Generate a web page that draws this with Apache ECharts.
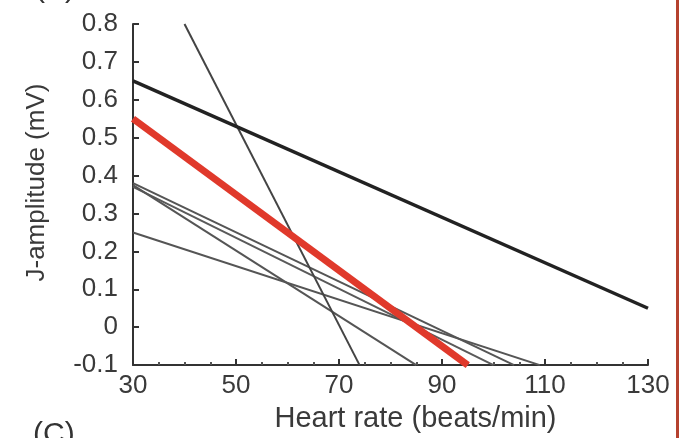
<!DOCTYPE html>
<html>
<head>
<meta charset="utf-8">
<script src="https://cdn.jsdelivr.net/npm/echarts@6/dist/echarts.min.js"></script>
<style>
    html, body { margin: 0; padding: 0; background: #fff; }
    #chart-container { width: 679px; height: 438px; }
</style>
</head>
<body>
<div id="chart-container"></div>
<script>
// 每條直線的兩個端點 [心率, J波幅]
const blackLine = [[30, 0.65], [130, 0.05]];
const redLine = [[30, 0.55], [95, -0.1]];
const steepLine = [[40, 0.8], [74, -0.1]];
const greyLineA = [[30, 0.38], [104, -0.1]];
const greyLineB = [[30, 0.37], [100, -0.1]];
const greyLineC = [[30, 0.375], [85, -0.1]];
const greyLineD = [[30, 0.25], [109, -0.1]];

const xTicks = [30, 50, 70, 90, 110, 130];
const yTicks = [-0.1, 0, 0.1, 0.2, 0.3, 0.4, 0.5, 0.6, 0.7, 0.8];

const chart = echarts.init(document.getElementById('chart-container'));

const thin = (data, color) => ({
    type: 'line',
    data: data,
    symbol: 'none',
    silent: true,
    lineStyle: { color: color, width: 2 }
});

const font = 'Liberation Sans';

const option = {
    animation: false,
    grid: { left: 133, right: 31, top: 24, bottom: 72 },
    xAxis: {
        type: 'value',
        min: xTicks[0],
        max: xTicks[xTicks.length - 1],
        interval: 20,
        name: 'Heart rate (beats/min)',
        nameLocation: 'middle',
        nameGap: 36,
        nameTextStyle: { fontSize: 29, color: '#3a3a3a', fontFamily: font, padding: [0, 0, 0, 50] },
        axisLine: { onZero: false, lineStyle: { color: '#333', width: 2 } },
        axisTick: { inside: true, length: 6, lineStyle: { color: '#333', width: 2 } },
        minorTick: { show: true, splitNumber: 4, length: 3, lineStyle: { color: '#555', width: 2 } },
        splitLine: { show: false },
        axisLabel: { fontSize: 26, color: '#3a3a3a', margin: 8, fontFamily: font }
    },
    yAxis: {
        type: 'value',
        min: yTicks[0],
        max: yTicks[yTicks.length - 1],
        interval: 0.1,
        name: 'J-amplitude (mV)',
        nameLocation: 'middle',
        nameGap: 83,
        nameTextStyle: { fontSize: 26, color: '#3a3a3a', fontFamily: font, padding: [0, 0, 0, 24] },
        axisLine: { show: true, onZero: false, lineStyle: { color: '#333', width: 2 } },
        axisTick: { show: true, inside: true, length: 6, lineStyle: { color: '#333', width: 2 } },
        splitLine: { show: false },
        axisLabel: {
            fontSize: 26,
            color: '#3a3a3a',
            margin: 15,
            fontFamily: font,
            formatter: v => String(Math.round(v * 10) / 10)
        }
    },
    series: [
        thin(greyLineA, '#555'),
        thin(greyLineB, '#5a5a5a'),
        thin(greyLineC, '#555'),
        thin(greyLineD, '#555'),
        thin(steepLine, '#444'),
        {
            type: 'line',
            data: blackLine,
            symbol: 'none',
            silent: true,
            lineStyle: { color: '#222', width: 3.5 }
        },
        {
            type: 'line',
            data: redLine,
            symbol: 'none',
            silent: true,
            lineStyle: { color: '#e0392b', width: 7 }
        }
    ],
    graphic: [
        { type: 'rect', right: 0, top: 0, shape: { width: 3, height: 438 }, style: { fill: '#b5412f' } },
        { type: 'text', left: 33, top: 420, style: { text: '(C)', fontSize: 30, fill: '#333', fontFamily: font } },
        { type: 'text', left: 35, top: -26, style: { text: '(B)', fontSize: 30, fill: '#333', fontFamily: font } }
    ]
};

chart.setOption(option);
</script>
</body>
</html>
